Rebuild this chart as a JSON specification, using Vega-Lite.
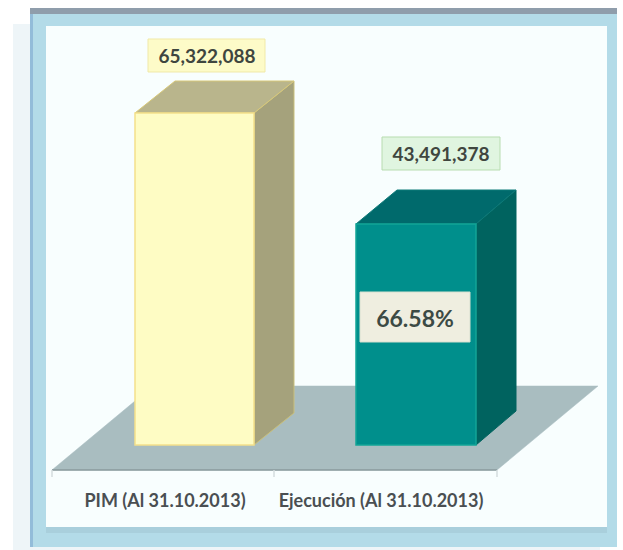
{"$schema":"https://vega.github.io/schema/vega-lite/v6.json","width":623,"height":550,"padding":0,"autosize":{"type":"fit","contains":"padding"},"background":"#ffffff","view":{"stroke":null},
"datasets":{
"fondo":[
{"parte":"franja","x":13,"x2":600,"y":82833000,"y2":-20659000},
{"parte":"marco","x":30,"x2":617,"y":85981000,"y2":-20069000},
{"parte":"borde","x":30,"x2":33,"y":85981000,"y2":-20069000},
{"parte":"sombra","x":46,"x2":607,"y":-16134000,"y2":-17300000},
{"parte":"gris","x":30,"x2":617,"y":85981000,"y2":84801000},
{"parte":"panel","x":46,"x2":607,"y":82439000,"y2":-16134000}],
"piso":[
{"parte":"piso","x":52,"y":-4919000,"y2":-4919000},
{"parte":"piso","x":153,"y":11608000,"y2":-4919000},
{"parte":"piso","x":497,"y":11608000,"y2":-4919000},
{"parte":"piso","x":598,"y":11608000,"y2":11608000}],
"ejeBase":[{"x":52,"x2":497,"y":-4919000}],
"ejeMarcas":[{"x":52,"y":-4919000,"y2":-6296000},{"x":274,"y":-4919000,"y2":-6296000},{"x":497,"y":-4919000,"y2":-6296000}],
"caras":[
{"parte":"pim lado","x":254,"y":0,"y2":65322088},
{"parte":"pim lado","x":294,"y":6296000,"y2":71618000},
{"parte":"pim techo","x":135,"y":65322088,"y2":65322088},
{"parte":"pim techo","x":175,"y":65322088,"y2":71618000},
{"parte":"pim techo","x":254,"y":65322088,"y2":71618000},
{"parte":"pim techo","x":294,"y":71618000,"y2":71618000},
{"parte":"eje lado","x":476,"y":0,"y2":43491378},
{"parte":"eje lado","x":516,"y":6690000,"y2":50172000},
{"parte":"eje techo","x":356,"y":43491378,"y2":43491378},
{"parte":"eje techo","x":397,"y":43491378,"y2":50172000},
{"parte":"eje techo","x":476,"y":43491378,"y2":50172000},
{"parte":"eje techo","x":516,"y":50172000,"y2":50172000}],
"barras":[
{"parte":"PIM (Al 31.10.2013)","x":135,"x2":254,"y":65322088,"y2":0},
{"parte":"Ejecución (Al 31.10.2013)","x":356,"x2":476,"y":43491378,"y2":0}],
"cajas":[
{"parte":"caja pim","x":148,"x2":265,"y":79882000,"y2":73389000},
{"parte":"caja eje","x":382,"x2":500,"y":60600000,"y2":54107000},
{"parte":"caja pct","x":360,"x2":470,"y":30103000,"y2":20266000}],
"valores":[{"x":207,"y":76340000,"t":"65,322,088"},{"x":441,"y":57058000,"t":"43,491,378"}],
"pct":[{"x":415,"y":24594000,"t":"66.58%"}],
"ejes":[{"x":165,"y":-11215000,"t":"PIM (Al 31.10.2013)"},{"x":381,"y":-11215000,"t":"Ejecución (Al 31.10.2013)"}]
},
"encoding":{
"x":{"field":"x","type":"quantitative","axis":null,"scale":{"domain":[0,623],"nice":false,"zero":false}},
"y":{"field":"y","type":"quantitative","axis":null,"scale":{"domain":[-20659000,87555000],"nice":false,"zero":false}},
"color":{"field":"parte","type":"nominal","legend":null,"sort":null,"scale":{
"domain":["franja","marco","borde","sombra","gris","panel","piso","pim lado","pim techo","eje lado","eje techo","PIM (Al 31.10.2013)","Ejecución (Al 31.10.2013)","caja pim","caja eje","caja pct"],
"range":["#eef5f8","#b3dbe8","#93bcd9","#a9cfdc","#8f9dab","#f8fefe","#a9bdc0","#a5a27c","#b9b58c","#00635f","#006a6c","#fefcc4","#008f8c","#fdfbc8","#e0f5e0","#efeee0"]}},
"stroke":{"field":"parte","type":"nominal","legend":null,"sort":null,"scale":{
"domain":["franja","marco","borde","sombra","gris","panel","piso","pim lado","pim techo","eje lado","eje techo","PIM (Al 31.10.2013)","Ejecución (Al 31.10.2013)","caja pim","caja eje","caja pct"],
"range":["#eef5f8","#b3dbe8","#93bcd9","#a9cfdc","#8f9dab","#f8fefe","#a9bdc0","#c9c07c","#d8c878","#00635f","#0d7a78","#f4e08a","#12a596","#f0e9a8","#b8dcb0","#d8e0d0"]}}
},
"layer":[
{"data":{"name":"fondo"},"mark":{"type":"rect","strokeWidth":0},"encoding":{"x2":{"field":"x2"},"y2":{"field":"y2"}}},
{"data":{"name":"piso"},"mark":{"type":"area","strokeWidth":0.5},"encoding":{"y2":{"field":"y2"}}},
{"data":{"name":"ejeBase"},"mark":{"type":"rule","color":"#8a9a9c","strokeWidth":1.5},"encoding":{"color":null,"stroke":null,"x2":{"field":"x2"}}},
{"data":{"name":"ejeMarcas"},"mark":{"type":"rule","color":"#d4dcde","strokeWidth":1.5},"encoding":{"color":null,"stroke":null,"y2":{"field":"y2"}}},
{"data":{"name":"caras"},"mark":{"type":"area","strokeWidth":1},"encoding":{"y2":{"field":"y2"}}},
{"data":{"name":"barras"},"mark":{"type":"rect","strokeWidth":1.5},"encoding":{"x2":{"field":"x2"},"y2":{"field":"y2"}}},
{"data":{"name":"cajas"},"mark":{"type":"rect","strokeWidth":1},"encoding":{"x2":{"field":"x2"},"y2":{"field":"y2"}}},
{"data":{"name":"valores"},"mark":{"type":"text","font":"Lato","fontSize":19,"fontWeight":"bold","fill":"#3f463f","baseline":"middle","align":"center"},"encoding":{"color":null,"stroke":null,"text":{"field":"t"}}},
{"data":{"name":"pct"},"mark":{"type":"text","font":"Lato","fontSize":23,"fontWeight":"bold","fill":"#3c4a44","baseline":"middle","align":"center"},"encoding":{"color":null,"stroke":null,"text":{"field":"t"}}},
{"data":{"name":"ejes"},"mark":{"type":"text","font":"Lato","fontSize":18,"fontWeight":"bold","fill":"#4a4f52","baseline":"middle","align":"center"},"encoding":{"color":null,"stroke":null,"text":{"field":"t"}}}
]}
